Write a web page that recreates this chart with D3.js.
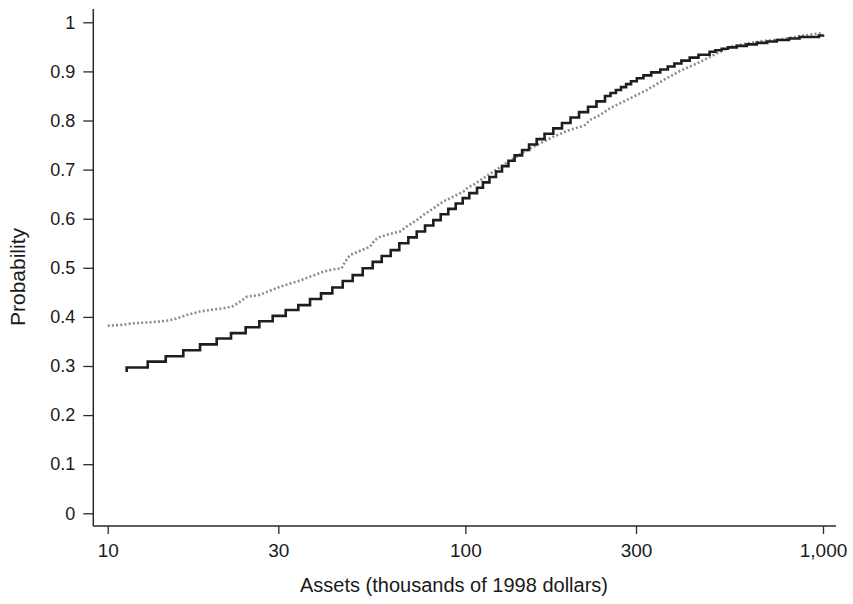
<!DOCTYPE html>
<html>
<head>
<meta charset="utf-8">
<script src="https://cdn.jsdelivr.net/npm/d3@7"></script>
<style>
  html, body { margin: 0; padding: 0; background: #fff; }
  svg text { font-family: "Liberation Sans", Arial, Helvetica, sans-serif; fill: #1a1a1a; }
</style>
</head>
<body>
<svg id="chart" width="853" height="604"></svg>
<script>
// ---- data ----
const xTicks = [10, 30, 100, 300, 1000];
const xTickLabels = ["10", "30", "100", "300", "1,000"];
const yTicks = [0, 0.1, 0.2, 0.3, 0.4, 0.5, 0.6, 0.7, 0.8, 0.9, 1];
const yTickLabels = ["0", "0.1", "0.2", "0.3", "0.4", "0.5", "0.6", "0.7", "0.8", "0.9", "1"];

// solid (black) step series: asset value where each level starts, and the level
const solidAssets = [11.30, 11.30, 12.94, 14.53, 16.27, 18.12, 20.17, 22.12, 24.31, 26.54, 28.93,
  31.46, 34.12, 36.79, 39.49, 42.47, 45.41, 48.42, 51.64, 55.07, 58.36,
  61.85, 65.37, 69.28, 73.12, 77.13, 81.36, 85.33, 89.60, 93.97, 98.31,
  102.6, 107.8, 112.0, 116.8, 121.8, 126.6, 132.0, 137.3, 144.1, 150.7,
  158.3, 166.5, 176.2, 186.3, 196.8, 207.9, 220.3, 232.6, 245.7, 254.6,
  263.6, 272.4, 281.5, 290.5, 301.6, 314.7, 330.9, 350.8, 368.2, 384.2,
  401.9, 423.9, 448.6, 481.9, 500.2, 520.9, 542.1, 573.7, 611.9, 652.6,
  698.0, 742.2, 803.1, 859.8, 973.8, 1000];
const solidProb = [0.288, 0.297, 0.309, 0.320, 0.332, 0.344, 0.356, 0.367, 0.379, 0.391, 0.402,
  0.414, 0.424, 0.4365, 0.448, 0.460, 0.473, 0.485, 0.499, 0.512, 0.524,
  0.536, 0.550, 0.562, 0.574, 0.586, 0.597, 0.609, 0.620, 0.631, 0.642,
  0.652, 0.663, 0.674, 0.685, 0.696, 0.707, 0.718, 0.729, 0.740, 0.751,
  0.762, 0.773, 0.784, 0.795, 0.806, 0.817, 0.828, 0.839, 0.850, 0.856,
  0.862, 0.868, 0.874, 0.880, 0.886, 0.892, 0.898, 0.904, 0.910, 0.916,
  0.922, 0.928, 0.934, 0.940, 0.943, 0.946, 0.949, 0.952, 0.955, 0.958,
  0.961, 0.964, 0.967, 0.970, 0.973, 0.975];

// dotted (gray) series
const dottedAssets = [10.0, 10.82, 11.79, 13.13, 14.62, 15.60, 16.63, 18.12, 19.74, 21.05,
  22.45, 23.44, 24.47, 26.66, 27.84, 30.33, 33.04, 34.49, 36.79, 40.07,
  42.74, 45.11, 46.08, 47.59, 51.31, 54.12, 55.91, 57.72, 61.57, 65.67,
  68.57, 73.12, 76.29, 81.36, 86.77, 92.53, 98.69, 101.9, 105.3, 112.2,
  119.7, 133.3, 145.0, 158.3, 176.2, 196.2, 209.2, 216.0, 223.1, 237.9,
  253.7, 270.6, 288.6, 321.4, 357.6, 398.3, 443.6, 493.5, 549.6, 611.9,
  681.0, 758.2, 844.1, 991.7];
const dottedProb = [0.382, 0.3835, 0.387, 0.389, 0.392, 0.397, 0.404, 0.411, 0.415, 0.4175,
  0.422, 0.431, 0.441, 0.445, 0.451, 0.4615, 0.470, 0.474, 0.482, 0.492,
  0.497, 0.499, 0.512, 0.526, 0.536, 0.543, 0.557, 0.563, 0.569, 0.574,
  0.584, 0.597, 0.6075, 0.621, 0.635, 0.645, 0.655, 0.664, 0.669, 0.682,
  0.696, 0.718, 0.735, 0.750, 0.767, 0.781, 0.787, 0.791, 0.801, 0.811,
  0.825, 0.835, 0.845, 0.862, 0.882, 0.901, 0.916, 0.933, 0.950, 0.957,
  0.962, 0.965, 0.971, 0.978];

const xTitle = "Assets (thousands of 1998 dollars)";
const yTitle = "Probability";

// ---- layout ----
const svg = d3.select("#chart");
const x = d3.scaleLog().domain([10, 1000]).range([107.7, 823]);
const y = d3.scaleLinear().domain([0, 1]).range([513.3, 22.3]);
const axisX = 93.3, axisTop = 9, axisY = 526, axisRight = 836;
const ink = "#2a2a2a";

// y axis
const gy = svg.append("g").attr("transform", `translate(${axisX},0)`)
  .call(d3.axisLeft(y).tickValues(yTicks).tickSize(10).tickSizeOuter(0).tickPadding(8)
    .tickFormat((d, i) => yTickLabels[i]));
gy.select(".domain").remove();
gy.selectAll(".tick line").attr("stroke", ink).attr("stroke-width", 1.3);
gy.selectAll(".tick text").attr("font-size", 18).attr("fill", "#1a1a1a");
svg.append("line").attr("x1", axisX).attr("x2", axisX).attr("y1", axisTop).attr("y2", axisY)
  .attr("stroke", ink).attr("stroke-width", 1.5);

// x axis
const gx = svg.append("g").attr("transform", `translate(0,${axisY})`)
  .call(d3.axisBottom(x).tickValues(xTicks).tickSize(8).tickSizeOuter(0).tickPadding(10)
    .tickFormat((d, i) => xTickLabels[i]));
gx.select(".domain").remove();
gx.selectAll(".tick line").attr("stroke", ink).attr("stroke-width", 1.3);
gx.selectAll(".tick text").attr("font-size", 19).attr("fill", "#1a1a1a");
svg.append("line").attr("x1", axisX).attr("x2", axisRight).attr("y1", axisY).attr("y2", axisY)
  .attr("stroke", ink).attr("stroke-width", 1.5);

// titles
svg.append("text").attr("x", 454).attr("y", 592).attr("text-anchor", "middle")
  .attr("font-size", 20).text(xTitle);
svg.append("text").attr("transform", "translate(25,277) rotate(-90)").attr("text-anchor", "middle")
  .attr("font-size", 21).text(yTitle);

// series
const dotted = dottedAssets.map((a, i) => [a, dottedProb[i]]);
const solid = solidAssets.map((a, i) => [a, solidProb[i]]);

svg.append("path").datum(dotted)
  .attr("fill", "none").attr("stroke", "#8c8c8c").attr("stroke-width", 2.6)
  .attr("stroke-dasharray", "2,2.2")
  .attr("d", d3.line().x(d => x(d[0])).y(d => y(d[1])).curve(d3.curveLinear));

svg.append("path").datum(solid)
  .attr("fill", "none").attr("stroke", "#1e1e1e").attr("stroke-width", 2.6)
  .attr("stroke-linejoin", "miter")
  .attr("d", d3.line().x(d => x(d[0])).y(d => y(d[1])).curve(d3.curveStepAfter));
</script>
</body>
</html>
